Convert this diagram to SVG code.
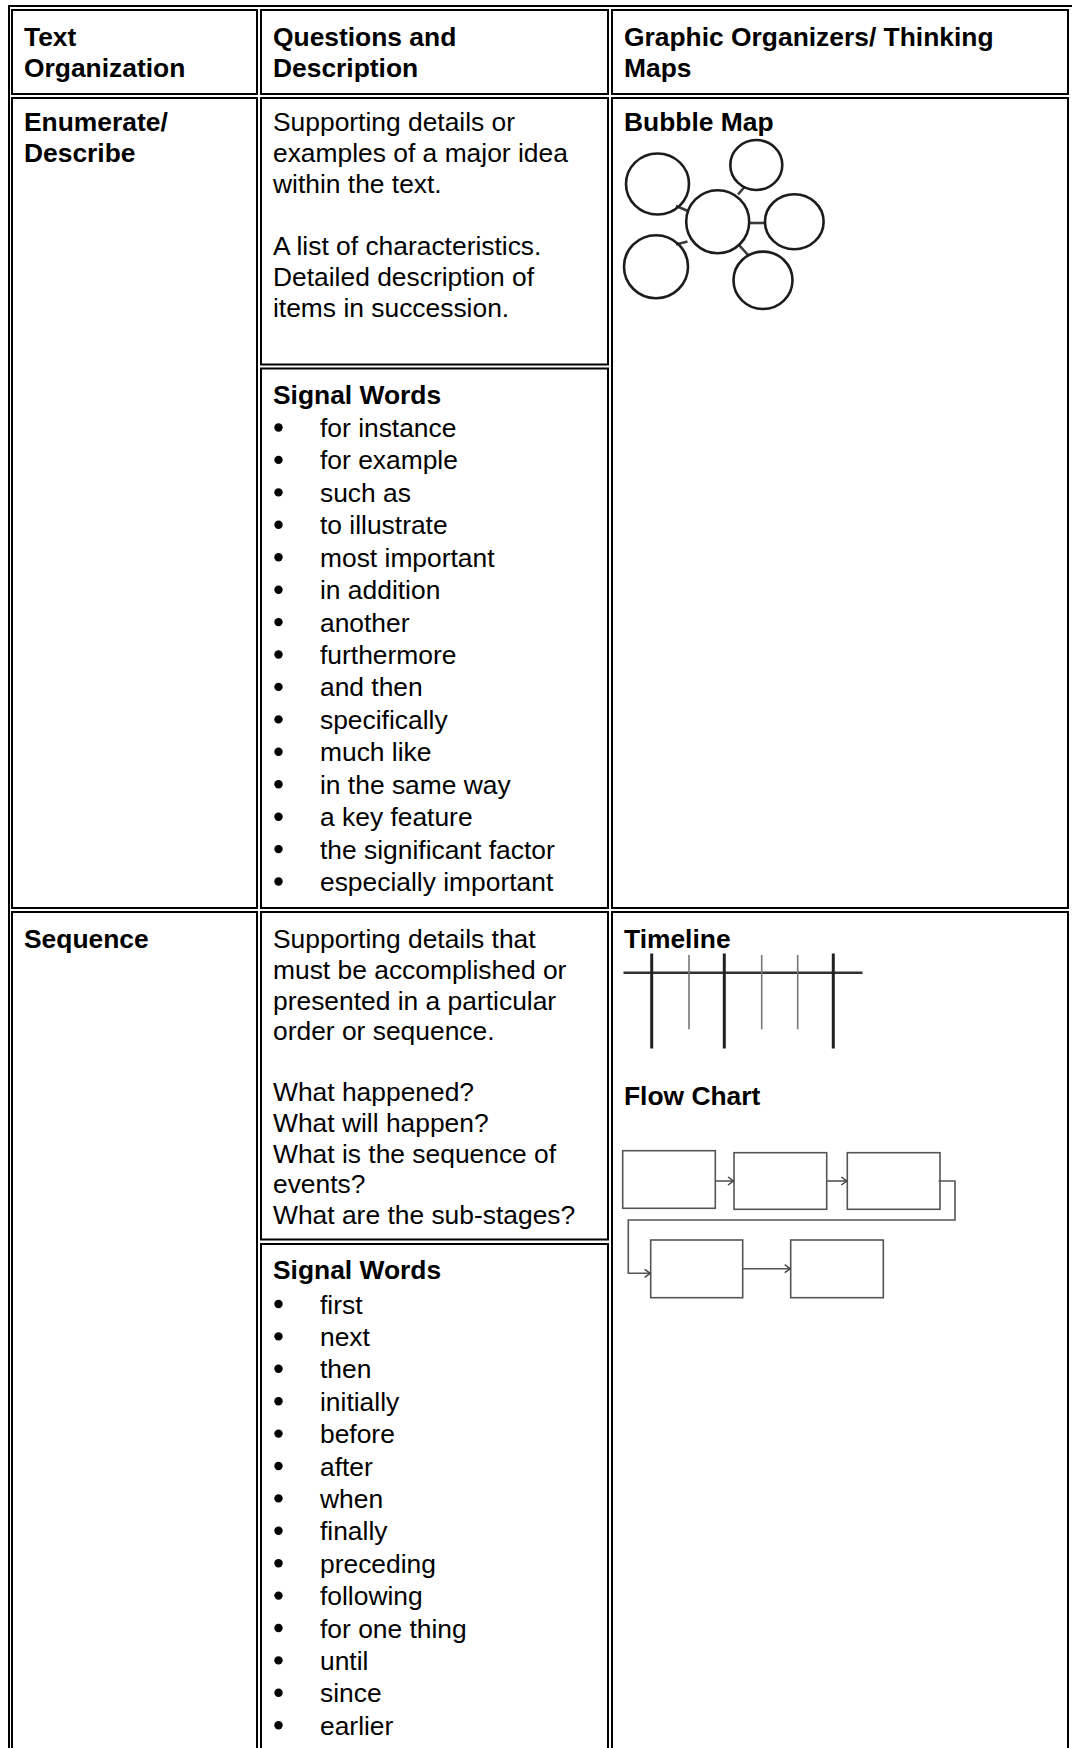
<svg xmlns="http://www.w3.org/2000/svg" width="1072" height="1748" viewBox="0 0 1072 1748">
  <defs>
    <style>
      .txt { font-family: "Liberation Sans", Arial, Helvetica, sans-serif; font-size: 26.4px; fill: #000; }
      .bold { font-weight: bold; }
      .frame { fill: none; stroke: #000; stroke-width: 2; }
      .cell { fill: none; stroke: #000; stroke-width: 2; }
      .dot { fill: #000; }
      .bubble { fill: none; stroke: #1c1c1c; stroke-width: 2.6; }
      .spoke { stroke: #3a3a3a; stroke-width: 2.6; }
      .axis { stroke: #333; stroke-width: 2.6; }
      .tick-major { stroke: #222; stroke-width: 3; }
      .tick-minor { stroke: #777; stroke-width: 1.6; }
      .box { fill: none; stroke: #555; stroke-width: 1.6; }
      .flow { fill: none; stroke: #555; stroke-width: 1.6; }
    </style>
    <marker id="chev" markerUnits="userSpaceOnUse" markerWidth="10" markerHeight="12" refX="7" refY="5" orient="auto">
      <path d="M1.5,1 L7,5 L1.5,9" fill="none" stroke="#444" stroke-width="1.5"/>
    </marker>
  </defs>

  <rect width="1072" height="1748" fill="#fff"/>

  <!-- table frame and cell borders (right edge of the frame runs off the page) -->
  <g id="table-grid">
    <path class="frame" d="M9,1760 V6 H1072"/>
    <!-- header row -->
    <rect class="cell" x="12" y="10" width="245" height="84"/>
    <rect class="cell" x="261" y="10" width="347" height="84"/>
    <rect class="cell" x="612" y="10" width="456" height="84"/>
    <!-- enumerate / describe row -->
    <rect class="cell" x="12" y="98" width="245" height="810"/>
    <rect class="cell" x="261" y="98" width="347" height="266.5"/>
    <rect class="cell" x="261" y="368.5" width="347" height="539.5"/>
    <rect class="cell" x="612" y="98" width="456" height="810"/>
    <!-- sequence row -->
    <rect class="cell" x="12" y="912" width="245" height="860"/>
    <rect class="cell" x="261" y="912" width="347" height="327.5"/>
    <rect class="cell" x="261" y="1244" width="347" height="528"/>
    <rect class="cell" x="612" y="912" width="456" height="860"/>
  </g>

  <!-- header texts -->
  <g id="header" class="txt bold">
    <text x="24" y="46">Text</text>
    <text x="24" y="77">Organization</text>
    <text x="273" y="46">Questions and</text>
    <text x="273" y="77">Description</text>
    <text x="624" y="46">Graphic Organizers/ Thinking</text>
    <text x="624" y="77">Maps</text>
  </g>

  <!-- enumerate / describe -->
  <g id="row-enumerate" class="txt">
    <text class="bold" x="24" y="131">Enumerate/</text>
    <text class="bold" x="24" y="162">Describe</text>
    <text x="273" y="131">Supporting details or</text>
    <text x="273" y="162">examples of a major idea</text>
    <text x="273" y="193">within the text.</text>
    <text x="273" y="255">A list of characteristics.</text>
    <text x="273" y="286">Detailed description of</text>
    <text x="273" y="317">items in succession.</text>
    <text class="bold" x="624" y="131">Bubble Map</text>
  </g>

  <g id="signal-enumerate" class="txt">
    <text class="bold" x="273" y="404">Signal Words</text>
    <text x="320" y="437">for instance</text>
    <text x="320" y="469.4">for example</text>
    <text x="320" y="501.9">such as</text>
    <text x="320" y="534.3">to illustrate</text>
    <text x="320" y="566.7">most important</text>
    <text x="320" y="599.2">in addition</text>
    <text x="320" y="631.6">another</text>
    <text x="320" y="664">furthermore</text>
    <text x="320" y="696.4">and then</text>
    <text x="320" y="728.9">specifically</text>
    <text x="320" y="761.3">much like</text>
    <text x="320" y="793.7">in the same way</text>
    <text x="320" y="826.2">a key feature</text>
    <text x="320" y="858.6">the significant factor</text>
    <text x="320" y="891">especially important</text>
  </g>
  <g id="bullets-enumerate" class="dot">
    <circle cx="278.5" cy="427.5" r="4.2"/>
    <circle cx="278.5" cy="459.9" r="4.2"/>
    <circle cx="278.5" cy="492.4" r="4.2"/>
    <circle cx="278.5" cy="524.8" r="4.2"/>
    <circle cx="278.5" cy="557.2" r="4.2"/>
    <circle cx="278.5" cy="589.7" r="4.2"/>
    <circle cx="278.5" cy="622.1" r="4.2"/>
    <circle cx="278.5" cy="654.5" r="4.2"/>
    <circle cx="278.5" cy="686.9" r="4.2"/>
    <circle cx="278.5" cy="719.4" r="4.2"/>
    <circle cx="278.5" cy="751.8" r="4.2"/>
    <circle cx="278.5" cy="784.2" r="4.2"/>
    <circle cx="278.5" cy="816.7" r="4.2"/>
    <circle cx="278.5" cy="849.1" r="4.2"/>
    <circle cx="278.5" cy="881.5" r="4.2"/>
  </g>

  <!-- bubble map -->
  <g id="bubble-map">
    <line class="spoke" x1="676" y1="206" x2="688" y2="211"/>
    <line class="spoke" x1="738" y1="194.5" x2="744.5" y2="187"/>
    <line class="spoke" x1="749" y1="223" x2="765.5" y2="223"/>
    <line class="spoke" x1="687.5" y1="241.5" x2="676" y2="244.5"/>
    <line class="spoke" x1="739" y1="245" x2="748.5" y2="255.5"/>
    <ellipse class="bubble" cx="657.5" cy="184" rx="31.5" ry="30.5"/>
    <ellipse class="bubble" cx="756.3" cy="165" rx="26" ry="25"/>
    <ellipse class="bubble" cx="717.7" cy="221.7" rx="31.5" ry="31.5"/>
    <ellipse class="bubble" cx="794.3" cy="221.7" rx="29.3" ry="27.5"/>
    <ellipse class="bubble" cx="656" cy="266.7" rx="32" ry="31.5"/>
    <ellipse class="bubble" cx="763" cy="280.3" rx="29.5" ry="28.7"/>
  </g>

  <!-- sequence -->
  <g id="row-sequence" class="txt">
    <text class="bold" x="24" y="948">Sequence</text>
    <text x="273" y="948">Supporting details that</text>
    <text x="273" y="979">must be accomplished or</text>
    <text x="273" y="1009.5">presented in a particular</text>
    <text x="273" y="1040">order or sequence.</text>
    <text x="273" y="1101">What happened?</text>
    <text x="273" y="1132">What will happen?</text>
    <text x="273" y="1162.5">What is the sequence of</text>
    <text x="273" y="1193">events?</text>
    <text x="273" y="1224">What are the sub-stages?</text>
    <text class="bold" x="624" y="948">Timeline</text>
    <text class="bold" x="624" y="1105">Flow Chart</text>
  </g>

  <g id="signal-sequence" class="txt">
    <text class="bold" x="273" y="1279">Signal Words</text>
    <text x="320" y="1313.5">first</text>
    <text x="320" y="1345.9">next</text>
    <text x="320" y="1378.3">then</text>
    <text x="320" y="1410.7">initially</text>
    <text x="320" y="1443.1">before</text>
    <text x="320" y="1475.5">after</text>
    <text x="320" y="1507.9">when</text>
    <text x="320" y="1540.3">finally</text>
    <text x="320" y="1572.7">preceding</text>
    <text x="320" y="1605.1">following</text>
    <text x="320" y="1637.5">for one thing</text>
    <text x="320" y="1669.9">until</text>
    <text x="320" y="1702.3">since</text>
    <text x="320" y="1734.7">earlier</text>
  </g>
  <g id="bullets-sequence" class="dot">
    <circle cx="278.5" cy="1304" r="4.2"/>
    <circle cx="278.5" cy="1336.4" r="4.2"/>
    <circle cx="278.5" cy="1368.8" r="4.2"/>
    <circle cx="278.5" cy="1401.2" r="4.2"/>
    <circle cx="278.5" cy="1433.6" r="4.2"/>
    <circle cx="278.5" cy="1466" r="4.2"/>
    <circle cx="278.5" cy="1498.4" r="4.2"/>
    <circle cx="278.5" cy="1530.8" r="4.2"/>
    <circle cx="278.5" cy="1563.2" r="4.2"/>
    <circle cx="278.5" cy="1595.6" r="4.2"/>
    <circle cx="278.5" cy="1628" r="4.2"/>
    <circle cx="278.5" cy="1660.4" r="4.2"/>
    <circle cx="278.5" cy="1692.8" r="4.2"/>
    <circle cx="278.5" cy="1725.2" r="4.2"/>
  </g>

  <!-- timeline -->
  <g id="timeline">
    <line class="axis" x1="623.5" y1="972.7" x2="862.5" y2="972.7"/>
    <line class="tick-major" x1="651.7" y1="953.5" x2="651.7" y2="1048.5"/>
    <line class="tick-major" x1="724.3" y1="953.5" x2="724.3" y2="1048.5"/>
    <line class="tick-major" x1="833.3" y1="953.5" x2="833.3" y2="1048.5"/>
    <line class="tick-minor" x1="689" y1="955" x2="689" y2="1029.3"/>
    <line class="tick-minor" x1="761.7" y1="955" x2="761.7" y2="1029.3"/>
    <line class="tick-minor" x1="797.7" y1="955" x2="797.7" y2="1029.3"/>
  </g>

  <!-- flow chart -->
  <g id="flow-chart">
    <g id="flow-boxes">
      <rect id="step-1" class="box" x="622.7" y="1150.7" width="92.6" height="57.6"/>
      <rect id="step-2" class="box" x="734" y="1152.7" width="92.7" height="56.6"/>
      <rect id="step-3" class="box" x="847.3" y="1152.7" width="92.7" height="56.6"/>
      <rect id="step-4" class="box" x="650.7" y="1240" width="92" height="57.7"/>
      <rect id="step-5" class="box" x="790.7" y="1240" width="92.6" height="57.7"/>
    </g>
    <g id="flow-connectors">
      <path class="flow" d="M715.3,1181 H733.5" marker-end="url(#chev)"/>
      <path class="flow" d="M826.7,1181 H846.8" marker-end="url(#chev)"/>
      <path class="flow" d="M938.5,1181 H955 V1220 H628.3 V1273.3 H650.2" marker-end="url(#chev)"/>
      <path class="flow" d="M742.7,1268.7 H790.2" marker-end="url(#chev)"/>
    </g>
  </g>
</svg>
